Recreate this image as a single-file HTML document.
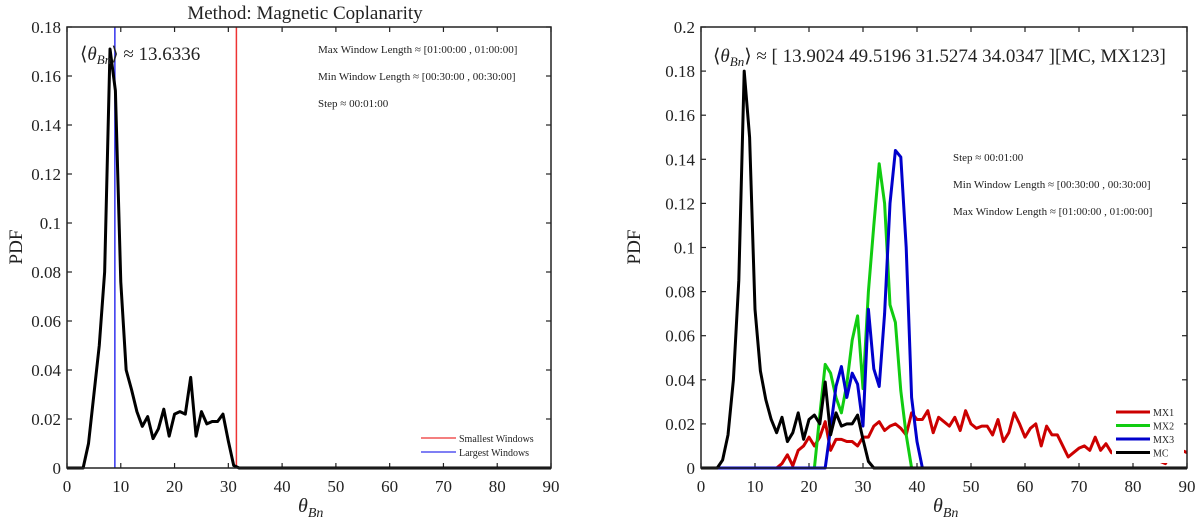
<!DOCTYPE html>
<html><head><meta charset="utf-8"><style>
body{margin:0;background:#fff;}
svg text{font-family:"Liberation Serif",serif;fill:#222;}
</style></head><body>
<svg id="svg" width="1200" height="523" xmlns="http://www.w3.org/2000/svg"></svg>
<script>
const degs = Array.from({length:91},(_,i)=>i);
const leftMC = [0,0,0,0,0.01,0.03,0.05,0.08,0.171,0.154,0.076,0.04,0.032,0.023,0.017,0.021,0.012,0.016,0.024,0.013,0.022,0.023,0.022,0.037,0.013,0.023,0.018,0.019,0.019,0.022,0.011,0.001];
const rightMC = [0,0,0,0,0.0036,0.015,0.04,0.085,0.18,0.15,0.072,0.044,0.031,0.022,0.016,0.023,0.012,0.016,0.025,0.013,0.022,0.024,0.02,0.039,0.015,0.025,0.019,0.02,0.02,0.024,0.013,0.003,0];
const mx2 = [0,0,0,0,0,0,0,0,0,0,0,0,0,0,0,0,0,0,0,0,0,0,0.024,0.047,0.043,0.032,0.025,0.038,0.058,0.069,0.036,0.08,0.11,0.138,0.12,0.074,0.066,0.035,0.015,0];
const mx3 = [0,0,0,0,0,0,0,0,0,0,0,0,0,0,0,0,0,0,0,0,0,0,0,0,0.018,0.037,0.046,0.032,0.043,0.038,0.019,0.072,0.045,0.037,0.07,0.12,0.144,0.141,0.1,0.032,0.012,0];
const mx1 = [0,0,0,0,0,0,0,0,0,0,0,0,0,0,0,0.002,0.006,0.001,0.008,0.01,0.014,0.01,0.014,0.021,0.008,0.013,0.013,0.012,0.012,0.01,0.014,0.014,0.019,0.021,0.017,0.019,0.02,0.018,0.015,0.025,0.022,0.022,0.026,0.016,0.023,0.021,0.019,0.023,0.017,0.026,0.02,0.018,0.019,0.019,0.015,0.022,0.012,0.016,0.025,0.02,0.014,0.018,0.02,0.01,0.019,0.015,0.015,0.01,0.005,0.007,0.009,0.01,0.008,0.014,0.008,0.011,0.007,0.006,0.003,0.005,0.007,0.006,0.005,0.006,0.005,0.003,0.002,0.006,0.007,0.008,0.007];
const xTicks = [0,10,20,30,40,50,60,70,80,90];
const leftYTicks = [0,0.02,0.04,0.06,0.08,0.1,0.12,0.14,0.16,0.18];
const rightYTicks = [0,0.02,0.04,0.06,0.08,0.1,0.12,0.14,0.16,0.18,0.2];
const leftVLines = [31.5, 8.9];

const svg=document.getElementById('svg');
const NS='http://www.w3.org/2000/svg';
function mk(tag,attrs,parent,txt){const e=document.createElementNS(NS,tag);for(const k in attrs)e.setAttribute(k,attrs[k]);if(txt!==undefined)e.textContent=txt;(parent||svg).appendChild(e);return e;}

function axes(L,R,T,B,ymax,yticks,name){
  const g=mk('g',{});
  
  
  const sx=v=>L+(R-L)*v/90, sy=v=>B-(B-T)*v/ymax;
  xTicks.forEach(t=>{
    const x=sx(t);
    const l1=mk('line',{x1:x,x2:x,y1:B,y2:B-5,stroke:'#222','stroke-width':1.2},g);
    
    
    mk('line',{x1:x,x2:x,y1:T,y2:T+5,stroke:'#222','stroke-width':1.2},g);
    const tx=mk('text',{x:x,y:B+24,'text-anchor':'middle','font-size':17},g,String(t));
    
    
  });
  yticks.forEach(t=>{
    const y=sy(t);
    mk('line',{x1:L,x2:L+5,y1:y,y2:y,stroke:'#222','stroke-width':1.2},g);
    mk('line',{x1:R,x2:R-5,y1:y,y2:y,stroke:'#222','stroke-width':1.2},g);
    const tx=mk('text',{x:L-6,y:y+6,'text-anchor':'end','font-size':17},g,String(t));
    
    
  });
  return {g,sx,sy};
}
function series(ax,vals,color,w,name){
  const full=degs.map(d=>d<vals.length?vals[d]:0);
  const p=mk('polyline',{points:full.map((v,i)=>ax.sx(i)+','+ax.sy(v)).join(' '),fill:'none',stroke:color,'stroke-width':w,'stroke-linejoin':'round'},ax.g);
  
  
}
function frame(L,R,T,B,g){mk('rect',{x:L,y:T,width:R-L,height:B-T,fill:'none',stroke:'#222','stroke-width':1.5},g);}

// Left
const A=axes(67,551,27,468,0.18,leftYTicks,'left-axes');
const vcol=['#e33','#33e'];
leftVLines.forEach((v,i)=>{const l=mk('line',{x1:A.sx(v),x2:A.sx(v),y1:27,y2:468,stroke:vcol[i],'stroke-width':1.5},A.g);

});
series(A,leftMC,'#000',3,'left-mc-series');
frame(67,551,27,468,A.g);
mk('text',{x:305,y:19,'text-anchor':'middle','font-size':19},A.g,'Method: Magnetic Coplanarity');
const t1=mk('text',{x:80,y:60,'font-size':19},A.g);t1.innerHTML='⟨<tspan font-style="italic">θ</tspan><tspan font-size="13" font-style="italic" dy="4">Bn</tspan><tspan dy="-4">⟩ ≈ 13.6336</tspan>';
[['Max Window Length ≈ [01:00:00 , 01:00:00]',53],['Min Window Length ≈ [00:30:00 , 00:30:00]',80],['Step ≈ 00:01:00',107]].forEach(a=>mk('text',{x:318,y:a[1],'font-size':11},A.g,a[0]));
mk('line',{x1:421,x2:456,y1:438,y2:438,stroke:'#e33','stroke-width':1.3},A.g);
mk('text',{x:459,y:442,'font-size':10},A.g,'Smallest Windows');
mk('line',{x1:421,x2:456,y1:452,y2:452,stroke:'#33e','stroke-width':1.3},A.g);
mk('text',{x:459,y:456,'font-size':10},A.g,'Largest Windows');
mk('text',{x:22,y:247,'text-anchor':'middle','font-size':19,transform:'rotate(-90 22 247)'},A.g,'PDF');
const xl=mk('text',{x:298,y:512,'font-size':20},A.g);xl.innerHTML='<tspan font-style="italic">θ</tspan><tspan font-size="14" font-style="italic" dy="5">Bn</tspan>';

// Right
const B=axes(701,1187,27,468,0.2,rightYTicks,'right-axes');
series(B,mx1,'#c00',3,'mx1-series');
series(B,mx2,'#1c1',3,'mx2-series');
series(B,mx3,'#00c',3,'mx3-series');
series(B,rightMC,'#000',3,'right-mc-series');
mk('rect',{x:1112,y:405,width:72,height:58,fill:'#fff'},B.g);
[['MX1','#c00'],['MX2','#1c1'],['MX3','#00c'],['MC','#000']].forEach((a,i)=>{const y=412+i*13.5;
const l=mk('line',{x1:1116,x2:1150,y1:y,y2:y,stroke:a[1],'stroke-width':3},B.g);


mk('text',{x:1153,y:y+4,'font-size':10},B.g,a[0]);});
frame(701,1187,27,468,B.g);
const t2=mk('text',{x:713,y:62,'font-size':19},B.g);t2.innerHTML='⟨<tspan font-style="italic">θ</tspan><tspan font-size="13" font-style="italic" dy="4">Bn</tspan><tspan dy="-4">⟩ ≈ [ 13.9024 49.5196 31.5274 34.0347 ][MC, MX123]</tspan>';
[['Step ≈ 00:01:00',161],['Min Window Length ≈ [00:30:00 , 00:30:00]',188],['Max Window Length ≈ [01:00:00 , 01:00:00]',215]].forEach(a=>mk('text',{x:953,y:a[1],'font-size':11},B.g,a[0]));
mk('text',{x:640,y:247,'text-anchor':'middle','font-size':19,transform:'rotate(-90 640 247)'},B.g,'PDF');
const xl2=mk('text',{x:933,y:512,'font-size':20},B.g);xl2.innerHTML='<tspan font-style="italic">θ</tspan><tspan font-size="14" font-style="italic" dy="5">Bn</tspan>';
</script>
</body></html>
